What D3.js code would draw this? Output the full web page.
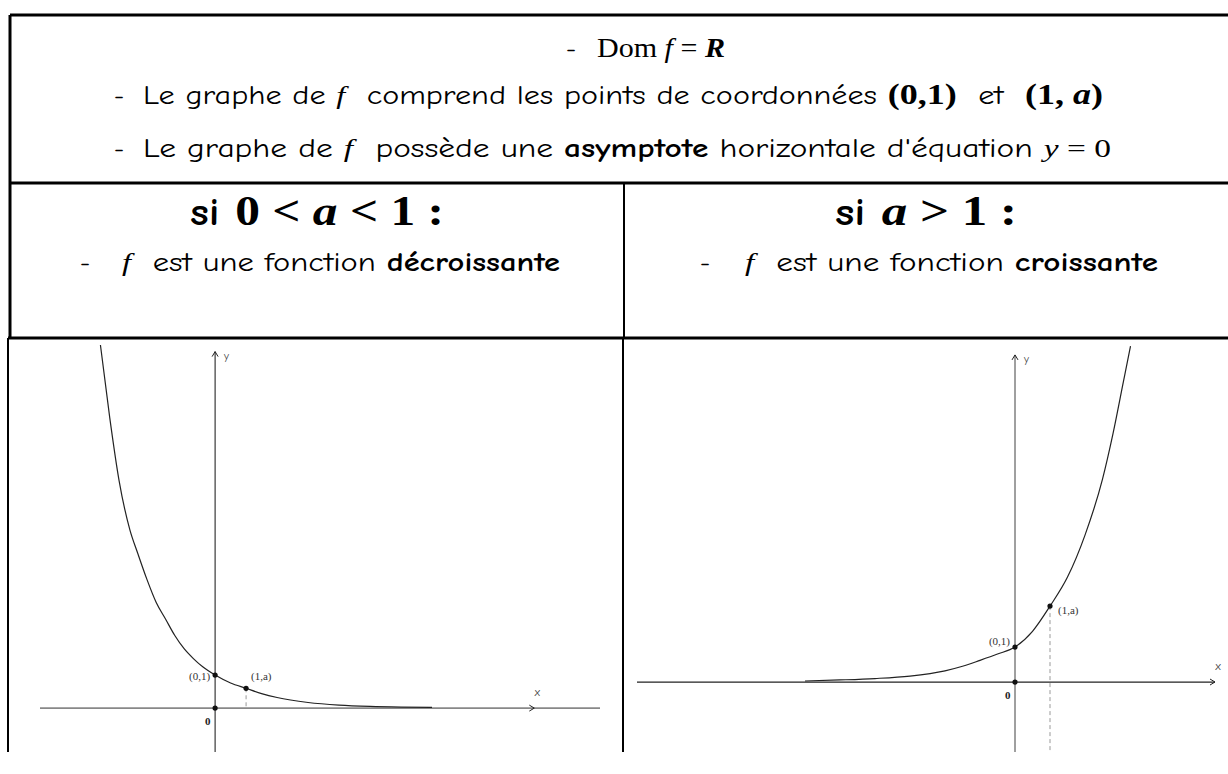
<!DOCTYPE html>
<html>
<head>
<meta charset="utf-8">
<script src="https://cdn.jsdelivr.net/npm/d3@7"></script>
<style>
  body { margin: 0; background: #fff; }
  text { white-space: pre; }
</style>
</head>
<body>
<div id="chart"></div>
<script>
const W = 1228, H = 774;
const sans = "'Comic Sans MS', 'Comic Neue', 'Open Sans', sans-serif";
const serif = "'Liberation Serif', 'Times New Roman', serif";

// --- courbe 0 < a < 1 ---
const leftX = [-3.7, -3.4, -3.1, -2.75, -2.5, -2.2, -1.9, -1.6, -1.3, -1.0, -0.7, -0.4, 0, 0.5, 1, 1.5, 2, 3, 4, 5, 6, 7];
const leftY = [11.0, 8.8, 6.9, 5.4, 4.7, 3.9, 3.2, 2.7, 2.2, 1.8, 1.5, 1.25, 1, 0.76, 0.6, 0.44, 0.32, 0.17, 0.09, 0.05, 0.03, 0.02];
const leftPoints = [[0, 1], [1, 0.6], [0, 0]];

// --- courbe a > 1 ---
const rightX = [-6, -5, -4, -3, -2, -1.5, -1, -0.5, 0, 0.5, 1, 1.5, 2, 2.5, 2.8, 3.1, 3.3];
const rightY = [0.03, 0.06, 0.1, 0.17, 0.32, 0.45, 0.62, 0.8, 1, 1.45, 2.17, 3.0, 4.2, 5.8, 7.1, 8.6, 9.6];
const rightPoints = [[0, 1], [1, 2.17], [0, 0]];

const svg = d3.select("#chart").append("svg")
  .attr("width", W).attr("height", H);

// --- cadre du tableau ---
const frame = [
  [10, 15, 1228, 15, 3], [10, 15, 10, 338, 3],
  [10, 183, 1228, 183, 3], [624, 183, 624, 338, 2],
  [8, 338, 1228, 338, 3], [8, 338, 8, 752, 2], [623, 338, 623, 752, 2]
];
svg.selectAll("line.frame").data(frame).enter().append("line")
  .attr("class", "frame")
  .attr("x1", d => d[0]).attr("y1", d => d[1])
  .attr("x2", d => d[2]).attr("y2", d => d[3])
  .attr("stroke", "#000").attr("stroke-width", d => d[4]);

// texte riche : m = serif, b = gras, i = italique, s = un peu plus grand
function rich(segs, x, y, size, anchor, width) {
  const t = svg.append("text")
    .attr("x", x).attr("y", y)
    .attr("font-size", size)
    .attr("text-anchor", anchor)
    .attr("fill", "#000");
  segs.forEach(([s, k]) => {
    const ts = t.append("tspan").text(s)
      .attr("font-family", k.includes("m") ? serif : sans);
    if (k.includes("b")) ts.attr("font-weight", "bold");
    if (k.includes("i")) ts.attr("font-style", "italic");
    if (k.includes("s")) ts.attr("font-size", size * 1.12);
  });
  if (width) t.attr("textLength", width).attr("lengthAdjust", "spacingAndGlyphs");
  return t;
}
function dash(x, y, size) {
  svg.append("text").attr("x", x).attr("y", y)
    .attr("font-family", sans).attr("font-size", size).text("-");
}

// lignes du haut
dash(566, 57, 25);
rich([["Dom ", "m"], ["f", "mi"], [" = ", "m"], ["R", "mbi"]], 597, 57, 28, "start", 128);

dash(114, 104, 25);
rich([["Le graphe de ", ""], ["f", "mi"], ["  comprend les points de coordonnées ", ""],
      ["(0,1)", "mbs"], ["  et  ", ""], ["(1, ", "mbs"], ["a", "mbis"], [")", "mbs"]],
     143, 104, 26, "start", 960);

dash(114, 157, 25);
rich([["Le graphe de ", ""], ["f", "mi"], ["  possède une ", ""], ["asymptote", "b"],
      [" horizontale d'équation ", ""], ["y", "mi"], [" = 0", "m"]],
     143, 157, 26, "start", 968);

// en-têtes
rich([["si ", "b"], ["0 < ", "mbs"], ["a", "mbis"], [" < 1 :", "mbs"]], 317, 225, 38, "middle", 254);
rich([["si ", "b"], ["a", "mbis"], [" > 1 :", "mbs"]], 926, 225, 38, "middle", 182);

dash(80, 271, 25);
rich([["f", "mi"], ["  est une fonction ", ""], ["décroissante", "b"]], 122, 271, 26, "start", 438);
dash(700, 271, 25);
rich([["f", "mi"], ["  est une fonction ", ""], ["croissante", "b"]], 745, 271, 26, "start", 413);

// --- graphes ---
function plot(cfg) {
  const x = d3.scaleLinear().domain(cfg.xd).range(cfg.xr);
  const y = d3.scaleLinear().domain(cfg.yd).range(cfg.yr);
  const g = svg.append("g");

  // axes
  g.append("line")
    .attr("x1", x(cfg.xd[0])).attr("x2", x(cfg.xd[1]))
    .attr("y1", y(0)).attr("y2", y(0))
    .attr("stroke", cfg.xColor).attr("stroke-width", cfg.xW);
  g.append("line")
    .attr("x1", x(0)).attr("x2", x(0))
    .attr("y1", y(cfg.yd[0])).attr("y2", y(cfg.yTop))
    .attr("stroke", cfg.yColor).attr("stroke-width", cfg.yW);

  // flèches
  const ax = x(cfg.arrowX), ay = y(0);
  g.append("path").attr("d", `M${ax - 5},${ay - 3}L${ax},${ay}L${ax - 5},${ay + 3}`)
    .attr("fill", "none").attr("stroke", "#222").attr("stroke-width", 1);
  const bx = x(0), by = y(cfg.yTop);
  g.append("path").attr("d", `M${bx - 3},${by + 5}L${bx},${by}L${bx + 3},${by + 5}`)
    .attr("fill", "none").attr("stroke", "#222").attr("stroke-width", 1);

  // libellés des axes
  g.append("text").attr("x", ax + 3).attr("y", ay - 12)
    .attr("font-family", sans).attr("font-size", 11).attr("fill", "#444")
    .attr("text-anchor", "middle").text("x");
  g.append("text").attr("x", bx + 9).attr("y", by + 8)
    .attr("font-family", sans).attr("font-size", 11).attr("fill", "#444").text("y");
  g.append("text").attr("x", bx - 10).attr("y", y(0) + 17)
    .attr("font-family", serif).attr("font-size", 11).attr("font-weight", "bold")
    .attr("fill", "#222").text("0");

  // pointillé sous (1,a)
  const p1 = cfg.points[1];
  g.append("line")
    .attr("x1", x(p1[0])).attr("x2", x(p1[0]))
    .attr("y1", y(p1[1])).attr("y2", y(cfg.dashTo))
    .attr("stroke", "#999").attr("stroke-dasharray", "4,3").attr("stroke-width", 1);

  // courbe
  const line = d3.line().x(d => x(d[0])).y(d => y(d[1])).curve(d3.curveMonotoneX);
  g.append("path").datum(d3.zip(cfg.cx, cfg.cy))
    .attr("d", line)
    .attr("fill", "none").attr("stroke", "#222").attr("stroke-width", 1.2);

  // points
  g.selectAll("circle").data(cfg.points).enter().append("circle")
    .attr("cx", d => x(d[0])).attr("cy", d => y(d[1])).attr("r", 2.6)
    .attr("fill", "#111");

  // étiquettes des points
  g.append("text").attr("x", x(0) - 5).attr("y", y(1) + cfg.l01dy)
    .attr("text-anchor", "end").attr("font-family", serif).attr("font-size", 11)
    .attr("fill", "#333").text("(0,1)");
  g.append("text").attr("x", x(p1[0]) + cfg.l1adx).attr("y", y(p1[1]) + cfg.l1ady)
    .attr("font-family", serif).attr("font-size", 11)
    .attr("fill", "#333").text("(1,a)");
}

plot({
  xd: [-5.65, 12.42], xr: [40, 600],
  yd: [-1.33, 11], yr: [752, 345], yTop: 10.8,
  xColor: "#888", xW: 1.6, yColor: "#111", yW: 1,
  arrowX: 10.3, points: leftPoints, dashTo: 0,
  cx: leftX, cy: leftY,
  l01dy: 5, l1adx: 5, l1ady: -8
});

plot({
  xd: [-10.8, 5.714], xr: [637, 1215],
  yd: [-2, 9.49], yr: [752, 350], yTop: 9.35,
  xColor: "#222", xW: 1.2, yColor: "#888", yW: 1.6,
  arrowX: 5.714, points: rightPoints, dashTo: -2,
  cx: rightX, cy: rightY,
  l01dy: -2, l1adx: 8, l1ady: 8
});
</script>
</body>
</html>
